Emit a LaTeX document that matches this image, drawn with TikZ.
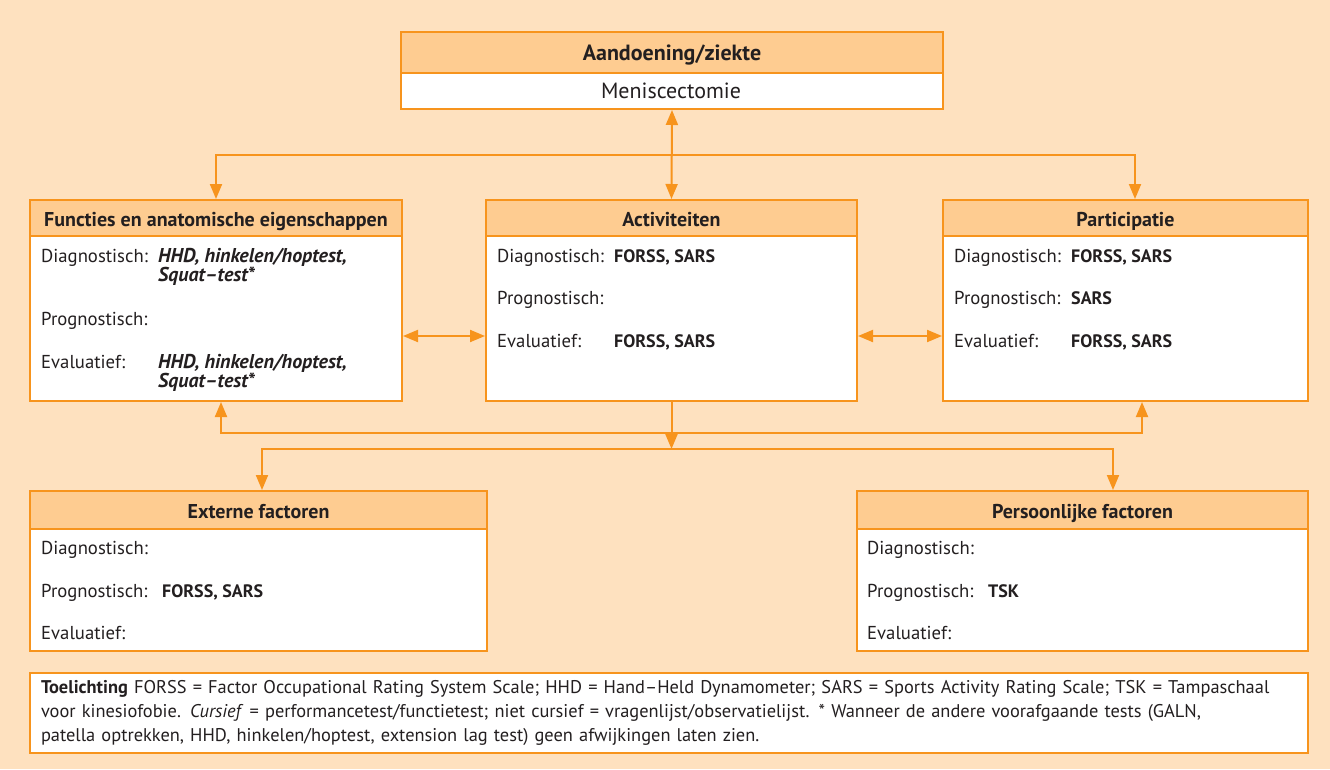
\documentclass[tikz,border=0pt]{standalone}
\usepackage{fontspec}
\setmainfont{PT Sans}
\usetikzlibrary{arrows.meta,calc}

\definecolor{bgpeach}{HTML}{FEE1BF}
\definecolor{headfill}{HTML}{FECC91}
\definecolor{orangeline}{HTML}{F7941D}
\definecolor{ink}{HTML}{231F20}

\newcommand\bxfont{\fontsize{18.7}{19}\selectfont}
\newcommand\valfont{\fontsize{18}{19}\selectfont\bfseries}
\newcommand\ivalfont{\fontsize{20}{19}\selectfont\bfseries\itshape}
\newcommand\headfont{\fontsize{20}{19}\selectfont\bfseries}
\newcommand\topfont{\fontsize{22}{22}\selectfont}
\newcommand\notefont{\fontsize{18.4}{24}\selectfont}

\tikzset{
  panel/.style={draw=orangeline, line width=2pt, fill=white, rectangle,
    inner sep=0pt, anchor=north west},
  headbar/.style={draw=orangeline, line width=2pt, fill=headfill, rectangle,
    inner sep=0pt, anchor=north west, font=\headfont, text=ink,
    text height=16pt, text depth=0pt},
  lbl/.style={anchor=base west, inner sep=0pt, font=\bxfont, text=ink},
  val/.style={lbl, font=\valfont},
  ival/.style={lbl, font=\ivalfont},
  conn/.style={draw=orangeline, line width=2pt},
  >={Triangle[length=15pt,width=12pt]}
}

\begin{document}
\begin{tikzpicture}[x=1pt,y=-1pt]
  % page background
  \fill[bgpeach] (0,0) rectangle (1330,769);
  \useasboundingbox (0,0) rectangle (1330,769);

  % condition box
  \node[panel, minimum width=542pt, minimum height=77pt] (aand) at (400,31) {};
  \node[headbar, minimum width=542pt, minimum height=41pt, font=\topfont\bfseries] (aandh) at (aand.north west) {Aandoening/ziekte};
  \node[lbl, anchor=base, font=\topfont] (aandt) at (671,98) {Meniscectomie};

  % body functions
  \node[panel, minimum width=372pt, minimum height=201pt] (fun) at (29,199) {};
  \node[headbar, minimum width=372pt, minimum height=36pt] (funh) at (fun.north west) {Functies en anatomische eigenschappen};
  \node[lbl] (fun1) at (41,262) {Diagnostisch:};
  \node[ival] (fun1v) at (158,262) {HHD, hinkelen/hoptest,};
  \node[ival] (fun1w) at (158,281) {Squat–test*};
  \node[lbl] (fun2) at (41,325) {Prognostisch:};
  \node[lbl] (fun3) at (41,368) {Evaluatief:};
  \node[ival] (fun3v) at (158,368) {HHD, hinkelen/hoptest,};
  \node[ival] (fun3w) at (158,387) {Squat–test*};

  % activities
  \node[panel, minimum width=371pt, minimum height=201pt] (act) at (485,199) {};
  \node[headbar, minimum width=371pt, minimum height=36pt] (acth) at (act.north west) {Activiteiten};
  \node[lbl] (act1) at (497,262) {Diagnostisch:};
  \node[val] (act1v) at (614,262) {FORSS, SARS};
  \node[lbl] (act2) at (497,304) {Prognostisch:};
  \node[lbl] (act3) at (497,347) {Evaluatief:};
  \node[val] (act3v) at (614,347) {FORSS, SARS};

  % participation
  \node[panel, minimum width=365pt, minimum height=201pt] (par) at (942,199) {};
  \node[headbar, minimum width=365pt, minimum height=36pt] (parh) at (par.north west) {Participatie};
  \node[lbl] (par1) at (954,262) {Diagnostisch:};
  \node[val] (par1v) at (1071,262) {FORSS, SARS};
  \node[lbl] (par2) at (954,304) {Prognostisch:};
  \node[val] (par2v) at (1071,304) {SARS};
  \node[lbl] (par3) at (954,347) {Evaluatief:};
  \node[val] (par3v) at (1071,347) {FORSS, SARS};

  % external factors
  \node[panel, minimum width=457pt, minimum height=160pt] (ext) at (29,490) {};
  \node[headbar, minimum width=457pt, minimum height=38pt] (exth) at (ext.north west) {Externe factoren};
  \node[lbl] (ext1) at (41,554) {Diagnostisch:};
  \node[lbl] (ext2) at (41,597) {Prognostisch:};
  \node[val] (ext2v) at (162,597) {FORSS, SARS};
  \node[lbl] (ext3) at (41,639) {Evaluatief:};

  % personal factors
  \node[panel, minimum width=451pt, minimum height=160pt] (per) at (856,490) {};
  \node[headbar, minimum width=451pt, minimum height=38pt] (perh) at (per.north west) {Persoonlijke factoren};
  \node[lbl] (per1) at (867,554) {Diagnostisch:};
  \node[lbl] (per2) at (867,597) {Prognostisch:};
  \node[val] (per2v) at (988,597) {TSK};
  \node[lbl] (per3) at (867,639) {Evaluatief:};

  % explanation
  \node[panel, minimum width=1278pt, minimum height=80pt, text width=1256pt,
        inner xsep=11pt, align=left, font=\notefont, text=ink] (note) at (29,672)
    {\textbf{Toelichting} FORSS = Factor Occupational Rating System Scale; HHD = Hand–Held Dynamometer; SARS = Sports Activity Rating Scale; TSK = Tampaschaal\\
     voor kinesiofobie. \textit{Cursief} = performancetest/functietest; niet cursief = vragenlijst/observatielijst. * Wanneer de andere voorafgaande tests (GALN,\\
     patella optrekken, HHD, hinkelen/hoptest, extension lag test) geen afwijkingen laten zien.};

  % connectors
  \draw[conn,<->] (aand.south) -- (act.north);
  \draw[conn,<->] (fun.north) -- ++(0,-44) -| ($(par.north)+(9.5,0)$);
  \draw[conn,<->] ($(fun.east)+(0,35.5)$) -- ($(act.west)+(0,35.5)$);
  \draw[conn,<->] ($(act.east)+(0,35.5)$) -- ($(par.west)+(0,35.5)$);
  \draw[conn,<->] ($(fun.south)+(5,0)$) -- ++(0,31) -| ($(par.south)+(16.5,0)$);
  \draw[conn,->] (act.south) -- ++(0,47) coordinate (hub);
  \draw[conn,<->] ($(ext.north)+(3.5,0)$) |- (hub) -| ($(per.north)+(30.5,0)$);
\end{tikzpicture}
\end{document}
